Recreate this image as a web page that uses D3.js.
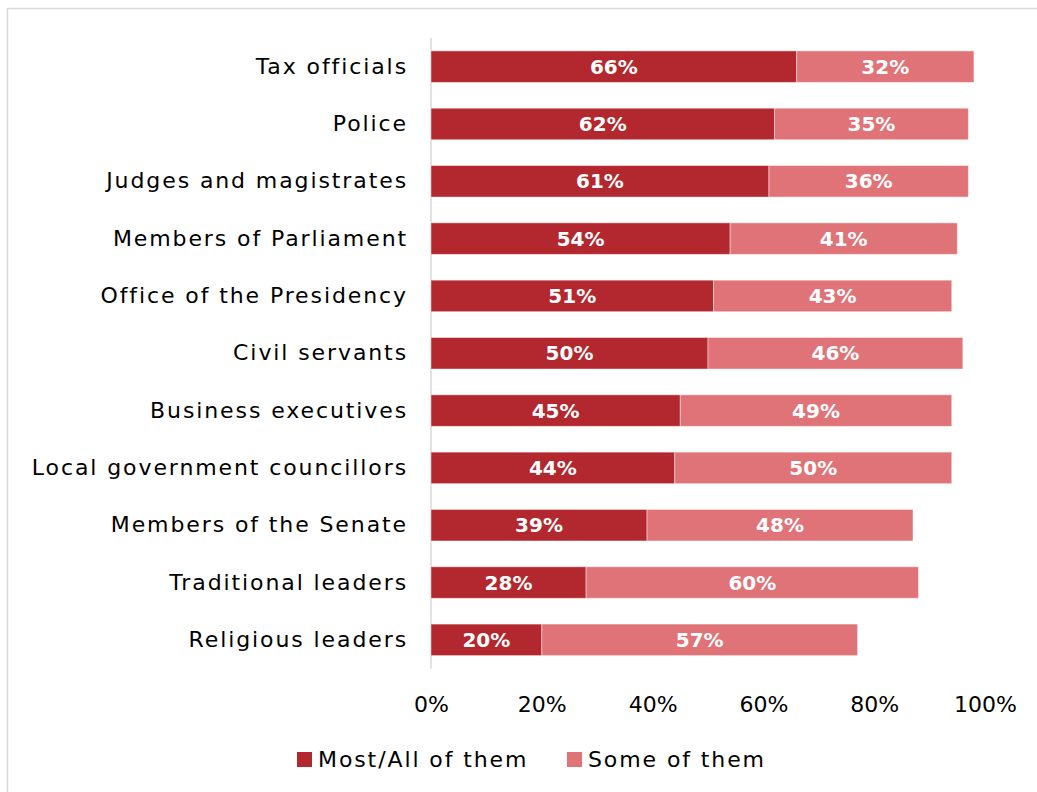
<!DOCTYPE html>
<html>
<head>
<meta charset="utf-8">
<script src="https://cdn.jsdelivr.net/npm/d3@7"></script>
<style>
  html, body { margin: 0; padding: 0; background: #fff; }
  svg { display: block; }
</style>
</head>
<body>
<svg id="chart" width="1037" height="792"></svg>
<script>
// Perceived corruption by institution: share saying "most/all" vs "some of them"
const categories = [
  "Tax officials", "Police", "Judges and magistrates", "Members of Parliament",
  "Office of the Presidency", "Civil servants", "Business executives",
  "Local government councillors", "Members of the Senate",
  "Traditional leaders", "Religious leaders"
];
const mostAll = [66, 62, 61, 54, 51, 50, 45, 44, 39, 28, 20];
const someOf  = [32, 35, 36, 41, 43, 46, 49, 50, 48, 60, 57];
const seriesNames = ["Most/All of them", "Some of them"];
const tickValues = [0, 20, 40, 60, 80, 100];

const colors = ["#b3282e", "#e07377"];
const fontFamily = "'Century Gothic', 'DejaVu Sans', sans-serif";

const svg = d3.select("#chart");

// outer frame
svg.append("rect")
  .attr("x", 7.5).attr("y", 8.5)
  .attr("width", 1100).attr("height", 900)
  .attr("fill", "#fff")
  .attr("stroke", "#d9d9d9").attr("stroke-width", 1.5);

const margin = { left: 431, top: 38, plotBottom: 668.5 };
const x = d3.scaleLinear().domain([0, 100]).range([margin.left, 985]);
const y = d3.scaleBand().domain(categories)
  .range([margin.top, margin.plotBottom]).paddingInner(0.45).paddingOuter(0.225);

const stackData = categories.map((c, i) => ({ cat: c, s0: mostAll[i], s1: someOf[i] }));
const stacked = d3.stack().keys(["s0", "s1"])(stackData);

// vertical axis line
svg.append("line")
  .attr("x1", x(0)).attr("x2", x(0))
  .attr("y1", margin.top).attr("y2", margin.plotBottom)
  .attr("stroke", "#d9d9d9").attr("stroke-width", 1.5);

const layers = svg.selectAll("g.layer").data(stacked).enter()
  .append("g").attr("class", "layer")
  .attr("fill", (d, i) => colors[i]);

layers.selectAll("rect").data(d => d).enter().append("rect")
  .attr("x", d => x(d[0]))
  .attr("y", d => y(d.data.cat))
  .attr("width", d => x(d[1]) - x(d[0]))
  .attr("height", y.bandwidth())
  .attr("stroke", "rgba(255,255,255,0.45)")
  .attr("stroke-width", 1);

layers.selectAll("text").data(d => d).enter().append("text")
  .attr("x", d => (x(d[0]) + x(d[1])) / 2)
  .attr("y", d => y(d.data.cat) + y.bandwidth() / 2)
  .attr("dy", "0.36em")
  .attr("text-anchor", "middle")
  .attr("fill", "#fff")
  .attr("font-family", fontFamily)
  .attr("font-weight", "bold")
  .attr("font-size", 20)
  .text(d => (d[1] - d[0]) + "%");

// category axis
const yAxis = d3.axisLeft(y).tickSize(0).tickPadding(23);
const gy = svg.append("g").attr("transform", `translate(${x(0)},0)`).call(yAxis);
gy.select(".domain").remove();
gy.selectAll("text")
  .attr("font-family", fontFamily)
  .attr("font-size", 22)
  .attr("letter-spacing", 1.9)
  .attr("fill", "#000");

// value axis
const xAxis = d3.axisBottom(x).tickValues(tickValues).tickSize(0).tickPadding(14)
  .tickFormat(d => d + "%");
const gx = svg.append("g").attr("transform", `translate(0,${margin.plotBottom + 14})`).call(xAxis);
gx.select(".domain").remove();
gx.selectAll("text")
  .attr("font-family", fontFamily)
  .attr("font-size", 22)
  .attr("fill", "#000");

// legend
const legendPos = [297, 567];
const legend = svg.append("g").selectAll("g").data(seriesNames).enter()
  .append("g").attr("transform", (d, i) => `translate(${legendPos[i]},752)`);
legend.append("rect").attr("width", 15).attr("height", 15)
  .attr("fill", (d, i) => colors[i]);
legend.append("text")
  .attr("x", 21).attr("y", 7.5).attr("dy", "0.36em")
  .attr("font-family", fontFamily)
  .attr("font-size", 22)
  .attr("letter-spacing", 1.9)
  .attr("fill", "#000")
  .text(d => d);
</script>
</body>
</html>
